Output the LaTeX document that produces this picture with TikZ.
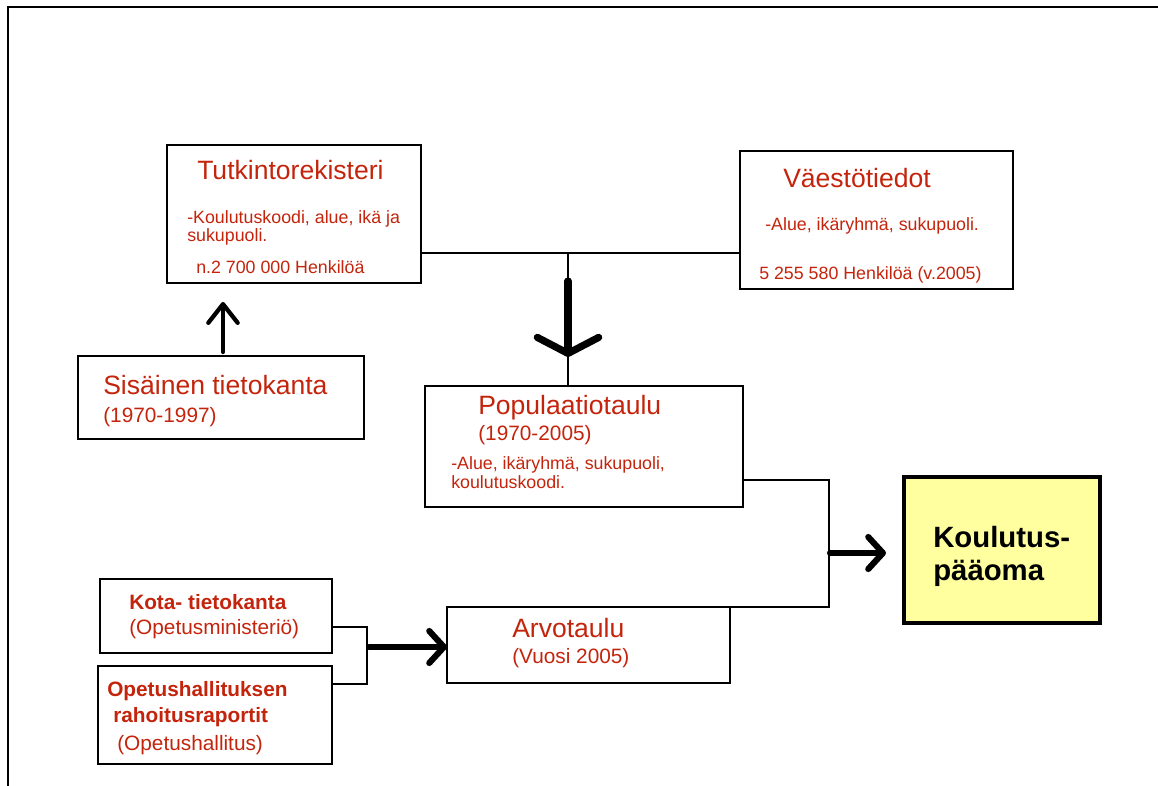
\documentclass[tikz,border=0pt]{standalone}
\usepackage{fontspec}
\setmainfont{Liberation Sans}
\usetikzlibrary{fit,arrows.meta}
\definecolor{cTxt}{RGB}{196,36,12}
\definecolor{cKoul}{RGB}{255,255,160}

\begin{document}
\begin{tikzpicture}[
  x=0.75pt, y=-0.75pt,
  box/.style   = {draw, line width=2.2pt, inner sep=0pt, outer sep=0pt},
  big/.style   = {anchor=base west, inner sep=0pt, text=cTxt,
                  font=\fontsize{19.9}{24}\selectfont},
  mid/.style   = {anchor=base west, inner sep=0pt, text=cTxt,
                  font=\fontsize{15.6}{19}\selectfont},
  sml/.style   = {anchor=base west, inner sep=0pt, text=cTxt,
                  font=\fontsize{13.35}{16}\selectfont},
  hdr/.style   = {mid, font=\fontsize{15.6}{19}\selectfont\bfseries},
  link/.style  = {line width=1.5pt},
  frame/.style = {line width=2.2pt},
  fatD/.style  = {-{Straight Barb[round, length=12pt, width=46pt]},
                  line width=5.4pt, line cap=round},
  fatR/.style  = {-{Straight Barb[round, length=11pt, width=24pt]},
                  line width=4.6pt, line cap=round},
  fatU/.style  = {-{Straight Barb[round, length=14pt, width=22pt]},
                  line width=3.2pt, line cap=round}
]
\fill[white, use as bounding box] (0,0) rectangle (1158,786);

% ---------------------------------------------------------------- kehys --
\draw[frame] (8,786) -- (8,7) -- (1158,7);

% ------------------------------------------------------------ laatikot --
\node[box, fit={(167,145)(421,283)}]  (tutk) {};
\node[box, fit={(740,151)(1013,289)}] (vaes) {};
\node[box, fit={(78,356)(364,439)}]   (sis)  {};
\node[box, fit={(425,386)(743,507)}]  (pop)  {};
\node[box, fit={(100,579)(332,653)}]  (kota) {};
\node[box, fit={(98,666)(332,764)}]   (opet) {};
\node[box, fit={(447,607)(730,683)}]  (arvo) {};
\node[box, line width=3.4pt, fill=cKoul,
      fit={(904,477)(1100,623)}]      (koul) {};

% -------------------------------------------------------------- tekstit --
\node[big] (tutk-t) at (197,179) {Tutkintorekisteri};
\node[sml] (tutk-a) at (187,223) {-Koulutuskoodi, alue, ikä ja};
\node[sml] (tutk-b) at (187,241) {sukupuoli.};
\node[sml] (tutk-c) at (196,273) {n.2 700 000 Henkilöä};

\node[big] (vaes-t) at (783,187) {Väestötiedot};
\node[sml] (vaes-a) at (765,230) {-Alue, ikäryhmä, sukupuoli.};
\node[sml] (vaes-b) at (759,279) {5 255 580 Henkilöä (v.2005)};

\node[big] (sis-t) at (103,394) {Sisäinen tietokanta};
\node[mid] (sis-a) at (103,422) {(1970-1997)};

\node[big] (pop-t) at (478,414) {Populaatiotaulu};
\node[mid] (pop-a) at (478,440) {(1970-2005)};
\node[sml] (pop-b) at (451,469) {-Alue, ikäryhmä, sukupuoli,};
\node[sml] (pop-c) at (451,488) {koulutuskoodi.};

\node[hdr] (kota-t) at (129,609) {Kota- tietokanta};
\node[mid] (kota-a) at (129,634) {(Opetusministeriö)};

\node[hdr] (opet-t) at (107,696) {Opetushallituksen};
\node[hdr] (opet-u) at (113,722) {rahoitusraportit};
\node[mid] (opet-a) at (117,750) {(Opetushallitus)};

\node[big] (arvo-t) at (512,637) {Arvotaulu};
\node[mid] (arvo-a) at (512,663) {(Vuosi 2005)};

\node[anchor=base west, inner sep=0pt,
      font=\fontsize{22}{26}\selectfont\bfseries] (koul-t) at (933,547) {Koulutus-};
\node[anchor=base west, inner sep=0pt,
      font=\fontsize{22}{26}\selectfont\bfseries] (koul-u) at (933,580) {pääoma};

% --------------------------------------------------------------- liitokset --
\coordinate (jn)    at (568,253);
\coordinate (dTail) at (568,281);
\coordinate (dTip)  at (568,357);
\coordinate (uTail) at (223,352);
\coordinate (uTip)  at (223,302);
\coordinate (mTop)  at (829,480);
\coordinate (mBot)  at (829,607);
\coordinate (kTail) at (830,553);
\coordinate (kTip)  at (886,553);
\coordinate (bTop)  at (367,627);
\coordinate (bBot)  at (367,684);
\coordinate (bArr)  at (369,647);

\draw[link] (tutk.east |- jn) -- (vaes.west |- jn);
\draw[link] (jn) -- (jn |- pop.north);
\draw[fatD] (dTail) -- (dTip);

\draw[fatU] (uTail) -- (uTip);

\draw[link] (pop.east |- mTop) -- (mTop) -- (mBot) -- (mBot -| arvo.east);
\draw[fatR] (kTail) -- (kTip);

\draw[link] (kota.east |- bTop) -- (bTop) -- (bBot) -- (opet.east |- bBot);
\draw[fatR] (bArr) -- (arvo.west |- bArr);

\end{tikzpicture}
\end{document}
